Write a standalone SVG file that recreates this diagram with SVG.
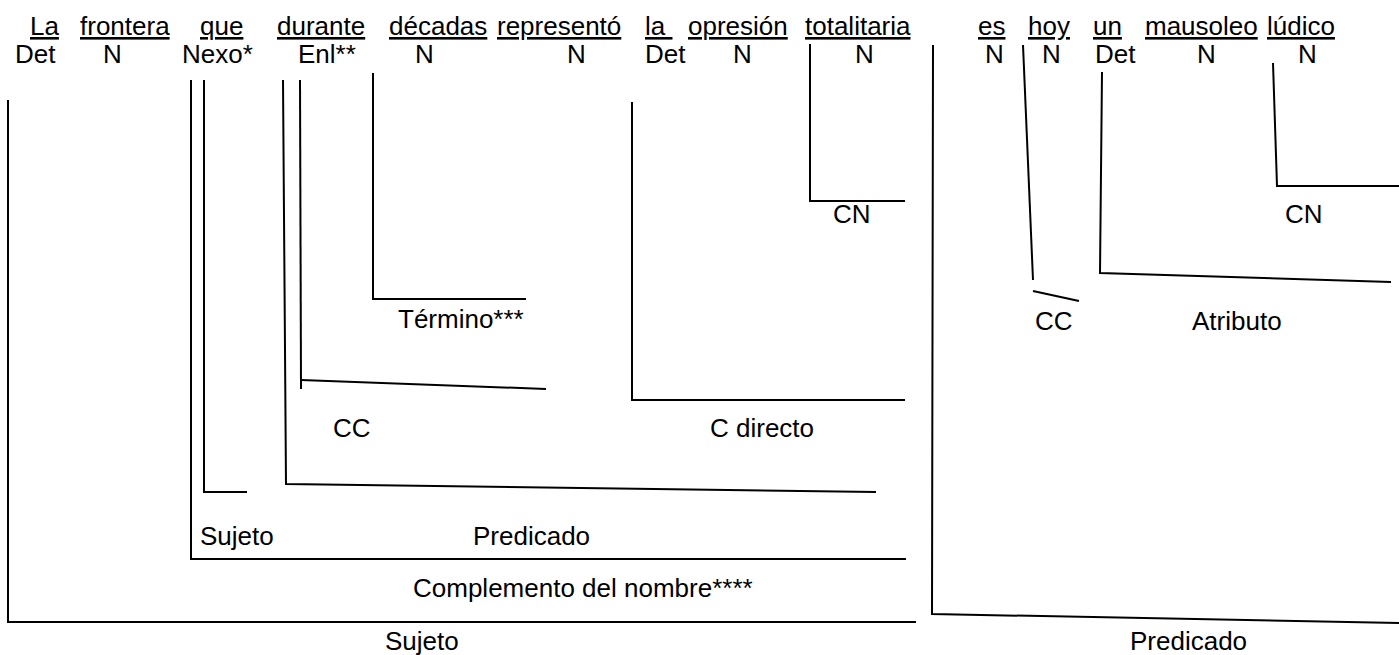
<svg xmlns="http://www.w3.org/2000/svg" width="1399" height="655" viewBox="0 0 1399 655">
<style>
text{font-family:"Liberation Sans",Arial,sans-serif;font-size:26px;fill:#000}
.w{text-decoration:underline}
.c{fill:none;stroke:#000;stroke-width:2}
</style>
<rect width="1399" height="655" fill="#fff"/>
<g id="words">
<text class="w" x="30" y="35">La</text>
<text class="w" x="80" y="35">frontera</text>
<text class="w" x="200" y="35">que</text>
<text class="w" x="277" y="35">durante</text>
<text class="w" x="389" y="35">décadas</text>
<text class="w" x="497" y="35">representó</text>
<text class="w" x="645" y="35">la&#160;</text>
<text class="w" x="688" y="35">opresión</text>
<text class="w" x="805" y="35">totalitaria</text>
<text class="w" x="978" y="35">es</text>
<text class="w" x="1028" y="35">hoy</text>
<text class="w" x="1093" y="35">un</text>
<text class="w" x="1145" y="35">mausoleo</text>
<text class="w" x="1267" y="35">lúdico</text>
</g>
<g id="tags">
<text x="15" y="63">Det</text>
<text x="103" y="63">N</text>
<text x="182" y="63">Nexo*</text>
<text x="298" y="63">Enl**</text>
<text x="415" y="63">N</text>
<text x="567" y="63">N</text>
<text x="645" y="63">Det</text>
<text x="733" y="63">N</text>
<text x="855" y="63">N</text>
<text x="985" y="63">N</text>
<text x="1042" y="63">N</text>
<text x="1095" y="63">Det</text>
<text x="1197" y="63">N</text>
<text x="1298" y="63">N</text>
</g>
<g id="connectors">
<polyline class="c" points="8,100 8,622 916,622"/>
<polyline class="c" points="191,80 191,559 906,559"/>
<polyline class="c" points="204,80 204,492 247,492"/>
<polyline class="c" points="283,80 286,484 876,492"/>
<line class="c" x1="300" y1="80" x2="301" y2="389"/>
<line class="c" x1="301" y1="380" x2="546" y2="389"/>
<polyline class="c" points="373,73 373,299 526,299"/>
<polyline class="c" points="632,102 632,400 905,400"/>
<polyline class="c" points="810,44 810,201 905,201"/>
<polyline class="c" points="933,45 932,614 1399,623"/>
<line class="c" x1="1023" y1="45" x2="1033" y2="280"/>
<line class="c" x1="1033" y1="291" x2="1079" y2="301"/>
<polyline class="c" points="1102,72 1100,273 1391,282"/>
<polyline class="c" points="1273,63 1277,186 1399,186"/>
</g>
<g id="labels">
<text x="385" y="650">Sujeto</text>
<text x="413" y="597">Complemento del nombre****</text>
<text x="200" y="545">Sujeto</text>
<text x="473" y="545">Predicado</text>
<text x="333" y="437">CC</text>
<text x="398" y="328">Término***</text>
<text x="710" y="437">C directo</text>
<text x="833" y="223">CN</text>
<text x="1130" y="650">Predicado</text>
<text x="1035" y="330">CC</text>
<text x="1192" y="330">Atributo</text>
<text x="1285" y="223">CN</text>
</g>
</svg>
